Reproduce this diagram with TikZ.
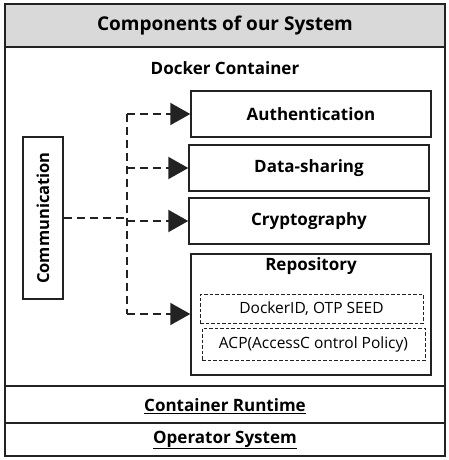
\documentclass[tikz,border=0pt]{standalone}
\usepackage{fontspec}
\setmainfont{Open Sans}
\usetikzlibrary{arrows.meta}

\definecolor{linegray}{HTML}{222222}
\definecolor{bandgray}{HTML}{D9D9D9}

\tikzset{
  frame/.style = {draw=linegray, line width=1.8pt},
  compbox/.style = {draw=linegray, line width=1.5pt, minimum height=46pt, text width=240pt, align=center, inner sep=0pt, font=\bfseries\fontsize{17}{20}\selectfont},
  itembox/.style = {draw=linegray, line width=1pt, dash pattern=on 3.5pt off 2pt, minimum height=29pt, inner sep=0pt, font=\fontsize{15.5}{18}\selectfont},
  link/.style = {draw=linegray, line width=2.2pt, dash pattern=on 8pt off 5pt},
  tolink/.style = {link, -{Triangle[length=20pt,width=22pt]}}
}

\begin{document}
\begin{tikzpicture}[x=1pt, y=-1pt]
    \useasboundingbox (0,0) rectangle (449,460);

    % title band and outer frame
    \fill[bandgray] (5,4) rectangle (445,47);
    \draw[frame] (5,4) rectangle (445,456);
    \draw[frame] (5,47) -- (445,47);
    \draw[draw=linegray, line width=2.8pt] (5,386) -- (445,386);
    \draw[frame] (5,423) -- (445,423);

    \node (title) at (225,26) {\bfseries\fontsize{19}{22}\selectfont Components of our System};
    \node (docker) at (225,68) {\bfseries\fontsize{17}{20}\selectfont Docker Container};
    \node (runtime) at (225,406) {\bfseries\fontsize{17}{20}\selectfont\underline{Container Runtime}};
    \node (os) at (225,440) {\bfseries\fontsize{17}{20}\selectfont\underline{Operator System}};

    % left side
    \node[draw=linegray, line width=1.5pt, minimum width=40pt, minimum height=162pt, inner sep=0pt] (comm) at (43,218) {};
    \node[rotate=90, font=\bfseries\fontsize{16.5}{18}\selectfont] (commtext) at (comm.center) {Communication};

    % components
    \node[compbox] (auth) at (311,114) {Authentication};
    \node[compbox] (share) at (309,168) {Data-sharing};
    \node[compbox] (crypto) at (309,221) {Cryptography};
    \node[draw=linegray, line width=1.5pt, minimum width=240pt, minimum height=121pt, inner sep=0pt] (repo) at (311,314.5) {};
    \node[font=\bfseries\fontsize{17}{20}\selectfont] (repotext) at (311,266) {Repository};
    \node[itembox, minimum width=223pt] (seed) at (311.5,308.5) {DockerID, OTP SEED};
    \node[itembox, minimum width=223pt, minimum height=32pt] (acp) at (313.5,344) {ACP(AccessC ontrol Policy)};

    % connectors
    \coordinate (top) at (127,114);
    \coordinate (bot) at (127,314);
    \draw[link] (comm.east) -- (comm.east -| top);
    \draw[link] (top) -- (bot);
    \draw[tolink] (top) -- (auth.west);
    \draw[tolink] (top |- share.west) -- (share.west);
    \draw[tolink] (top |- crypto.west) -- (crypto.west);
    \draw[tolink] (bot) -- (repo.west |- bot);
\end{tikzpicture}
\end{document}
